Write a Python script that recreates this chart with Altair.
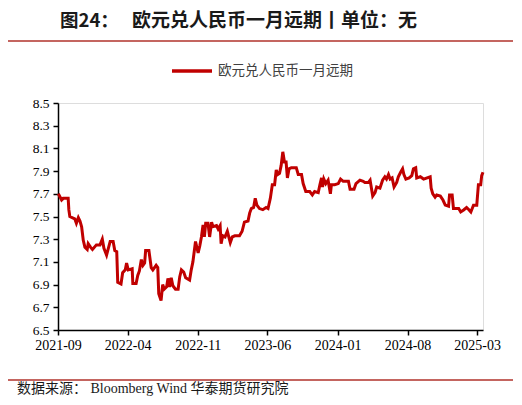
import altair as alt
import pandas as pd

# ---- data ----
dates = [
    "2021-09-02", "2021-09-12", "2021-09-17", "2021-10-02", "2021-10-04", "2021-10-07",
    "2021-10-22", "2021-10-27", "2021-11-02", "2021-11-07", "2021-11-12", "2021-11-17",
    "2021-11-22", "2021-11-29", "2021-12-02", "2021-12-09", "2021-12-15", "2021-12-27",
    "2022-01-07", "2022-01-14", "2022-01-19", "2022-01-27", "2022-02-07", "2022-02-16",
    "2022-02-21", "2022-02-27", "2022-03-02", "2022-03-12", "2022-03-17", "2022-03-25",
    "2022-03-29", "2022-04-03", "2022-04-15", "2022-04-17", "2022-04-27", "2022-05-02",
    "2022-05-07", "2022-05-13", "2022-05-18", "2022-05-23", "2022-05-26", "2022-06-05",
    "2022-06-12", "2022-06-17", "2022-06-27", "2022-07-02", "2022-07-05", "2022-07-12",
    "2022-07-17", "2022-07-22", "2022-07-29", "2022-08-02", "2022-08-07", "2022-08-12",
    "2022-08-17", "2022-08-25", "2022-09-02", "2022-09-07", "2022-09-12", "2022-09-19",
    "2022-09-25", "2022-10-07", "2022-10-12", "2022-10-17", "2022-10-25", "2022-11-02",
    "2022-11-07", "2022-11-12", "2022-11-17", "2022-11-21", "2022-11-25", "2022-12-02",
    "2022-12-07", "2022-12-13", "2022-12-17", "2022-12-28", "2023-01-02", "2023-01-08",
    "2023-01-11", "2023-01-16", "2023-01-23", "2023-01-30", "2023-02-08", "2023-02-14",
    "2023-02-22", "2023-03-08", "2023-03-16", "2023-03-23", "2023-04-03", "2023-04-08",
    "2023-04-13", "2023-04-20", "2023-04-25", "2023-04-30", "2023-05-08", "2023-05-18",
    "2023-05-28", "2023-06-03", "2023-06-10", "2023-06-16", "2023-06-23", "2023-06-28",
    "2023-07-03", "2023-07-08", "2023-07-13", "2023-07-18", "2023-07-23", "2023-07-28",
    "2023-08-01", "2023-08-06", "2023-08-13", "2023-08-28", "2023-09-03", "2023-09-13",
    "2023-09-18", "2023-09-26", "2023-10-08", "2023-10-16", "2023-10-23", "2023-11-03",
    "2023-11-08", "2023-11-13", "2023-11-16", "2023-11-20", "2023-11-26", "2023-12-03",
    "2023-12-10", "2023-12-13", "2023-12-23", "2024-01-03", "2024-01-10", "2024-01-18",
    "2024-02-03", "2024-02-08", "2024-02-20", "2024-02-26", "2024-03-09", "2024-03-19",
    "2024-03-24", "2024-04-04", "2024-04-09", "2024-04-17", "2024-04-24", "2024-04-29",
    "2024-05-09", "2024-05-17", "2024-05-24", "2024-05-29", "2024-06-04", "2024-06-09",
    "2024-06-15", "2024-06-21", "2024-06-29", "2024-07-04", "2024-07-11", "2024-07-17",
    "2024-07-21", "2024-07-27", "2024-08-06", "2024-08-14", "2024-08-19", "2024-08-26",
    "2024-08-29", "2024-09-09", "2024-09-19", "2024-10-09", "2024-10-12", "2024-10-17",
    "2024-10-24", "2024-10-29", "2024-11-09", "2024-11-17", "2024-11-24", "2024-12-04",
    "2024-12-07", "2024-12-15", "2024-12-19", "2025-01-04", "2025-01-10", "2025-01-20",
    "2025-01-28", "2025-02-04", "2025-02-10", "2025-02-18", "2025-02-28", "2025-03-05",
    "2025-03-12", "2025-03-15", "2025-03-19",
]
values = [
    7.70, 7.645, 7.66, 7.66, 7.56, 7.50,
    7.48, 7.44, 7.49, 7.46, 7.41, 7.29,
    7.23, 7.21, 7.26, 7.23, 7.21, 7.25,
    7.25, 7.30, 7.22, 7.16, 7.28, 7.28,
    7.20, 7.19, 6.92, 6.905, 7.005, 7.03,
    7.09, 7.03, 7.04, 6.91, 6.91, 6.98,
    7.02, 7.12, 7.07, 7.09, 7.20, 7.20,
    7.05, 7.03, 7.07, 7.05, 6.82, 6.76,
    6.90, 6.86, 6.88, 6.955, 6.88, 6.96,
    6.89, 6.86, 6.86, 6.97, 7.03, 7.01,
    6.96, 6.94, 7.03, 7.10, 7.28, 7.18,
    7.24, 7.32, 7.425, 7.32, 7.44, 7.44,
    7.32, 7.45, 7.41, 7.42, 7.39, 7.42,
    7.26, 7.33, 7.32, 7.37, 7.27, 7.32,
    7.33, 7.33, 7.37, 7.45, 7.46, 7.53,
    7.57, 7.58, 7.66, 7.60, 7.57, 7.56,
    7.58, 7.57, 7.66, 7.78, 7.78, 7.91,
    7.87, 7.88, 7.95, 8.07, 7.98, 7.98,
    7.84, 7.92, 7.93, 7.93, 7.87, 7.87,
    7.79, 7.72, 7.72, 7.69, 7.72, 7.71,
    7.78, 7.84, 7.76, 7.83, 7.79, 7.82,
    7.70, 7.78, 7.78, 7.79, 7.83, 7.81,
    7.81, 7.74, 7.74, 7.79, 7.82, 7.81,
    7.80, 7.80, 7.82, 7.68, 7.71, 7.76,
    7.75, 7.82, 7.85, 7.83, 7.87, 7.83,
    7.84, 7.76, 7.80, 7.85, 7.89, 7.92,
    7.87, 7.83, 7.84, 7.86, 7.92, 7.93,
    7.84, 7.85, 7.83, 7.85, 7.75, 7.70,
    7.67, 7.69, 7.68, 7.645, 7.60, 7.59,
    7.69, 7.69, 7.57, 7.57, 7.54, 7.56,
    7.58, 7.56, 7.54, 7.60, 7.60, 7.78,
    7.78, 7.86, 7.89,
]
series_name = "欧元兑人民币一月远期"
x_tick_dates = [(2021, 9), (2022, 4), (2022, 11), (2023, 6), (2024, 1), (2024, 8), (2025, 3)]
y_ticks = [6.5, 6.7, 6.9, 7.1, 7.3, 7.5, 7.7, 7.9, 8.1, 8.3, 8.5]
title_prefix = "图24："
title_main = "欧元兑人民币一月远期丨单位：无"
source_text = "数据来源：  Bloomberg Wind 华泰期货研究院"

df = pd.DataFrame({"date": dates, "value": values, "series": series_name})

RED = "#c00000"
RULE = "#c46560"
SERIF = "'Liberation Serif', 'Times New Roman', serif"
CJK = "Noto Sans CJK SC"

line = alt.Chart(df).mark_line(strokeWidth=3, strokeJoin="miter").encode(
    x=alt.X(
        "date:T",
        scale=alt.Scale(type="utc", domain=["2021-09-01", "2025-03-19"], nice=False),
        axis=alt.Axis(
            title=None,
            values=[alt.DateTime(year=y, month=m, date=1, utc=True) for y, m in x_tick_dates],
            labelExpr="utcFormat(datum.value, '%Y-%m')",
            labelOverlap=False,
            labelFlush=False,
            labelFont=SERIF,
            labelFontSize=14,
            labelColor="#000000",
            labelPadding=3,
            tickSize=5,
            tickColor="#000000",
            tickWidth=1.5,
            domainColor="#000000",
            domainWidth=1.5,
            grid=False,
        ),
    ),
    y=alt.Y(
        "value:Q",
        scale=alt.Scale(domain=[6.5, 8.5], nice=False, zero=False),
        axis=alt.Axis(
            title=None,
            values=y_ticks,
            format=".1f",
            labelFont=SERIF,
            labelFontSize=13.5,
            labelColor="#000000",
            labelPadding=4,
            labelFlush=False,
            tickSize=5,
            tickColor="#000000",
            tickWidth=1.5,
            domainColor="#000000",
            domainWidth=1.5,
            grid=False,
        ),
    ),
    color=alt.Color(
        "series:N",
        scale=alt.Scale(range=[RED]),
        legend=alt.Legend(
            title=None,
            orient="none",
            legendX=112,
            legendY=-54,
            symbolType="stroke",
            symbolSize=1600,
            symbolStrokeWidth=3.5,
            labelFont=CJK,
            labelFontSize=13.5,
            labelColor="#404040",
            labelOffset=4,
        ),
    ),
)

def text_layer(txt, x, y, size, weight="normal", font=CJK, color="#1a1a1a", baseline="middle"):
    return alt.Chart(pd.DataFrame({"t": [txt]})).mark_text(
        align="left", baseline=baseline, font=font, fontSize=size,
        fontWeight=weight, color=color,
    ).encode(text="t:N", x=alt.value(x), y=alt.value(y))

def hrule(y):
    return alt.Chart(pd.DataFrame({"k": [0]})).mark_rule(
        color=RULE, strokeWidth=2
    ).encode(x=alt.value(-53), x2=alt.value(459), y=alt.value(y))

chart = alt.layer(
    line,
    text_layer(title_prefix, 2, -91, 18.5, "bold", baseline="top"),
    text_layer(title_main, 74, -91, 19, "bold", baseline="top"),
    hrule(-62),
    hrule(277),
    text_layer(source_text, -41, 286, 14, font=f"{SERIF}, {CJK}", color="#1a1a1a"),
).properties(
    width=425,
    height=227,
    autosize=alt.AutoSizeParams(type="none"),
    padding={"left": 50, "top": 95, "right": 30, "bottom": 67},
).configure_view(stroke=None).configure(background="white")

chart.save("out.html", embed_options={"renderer": "svg", "actions": False})
